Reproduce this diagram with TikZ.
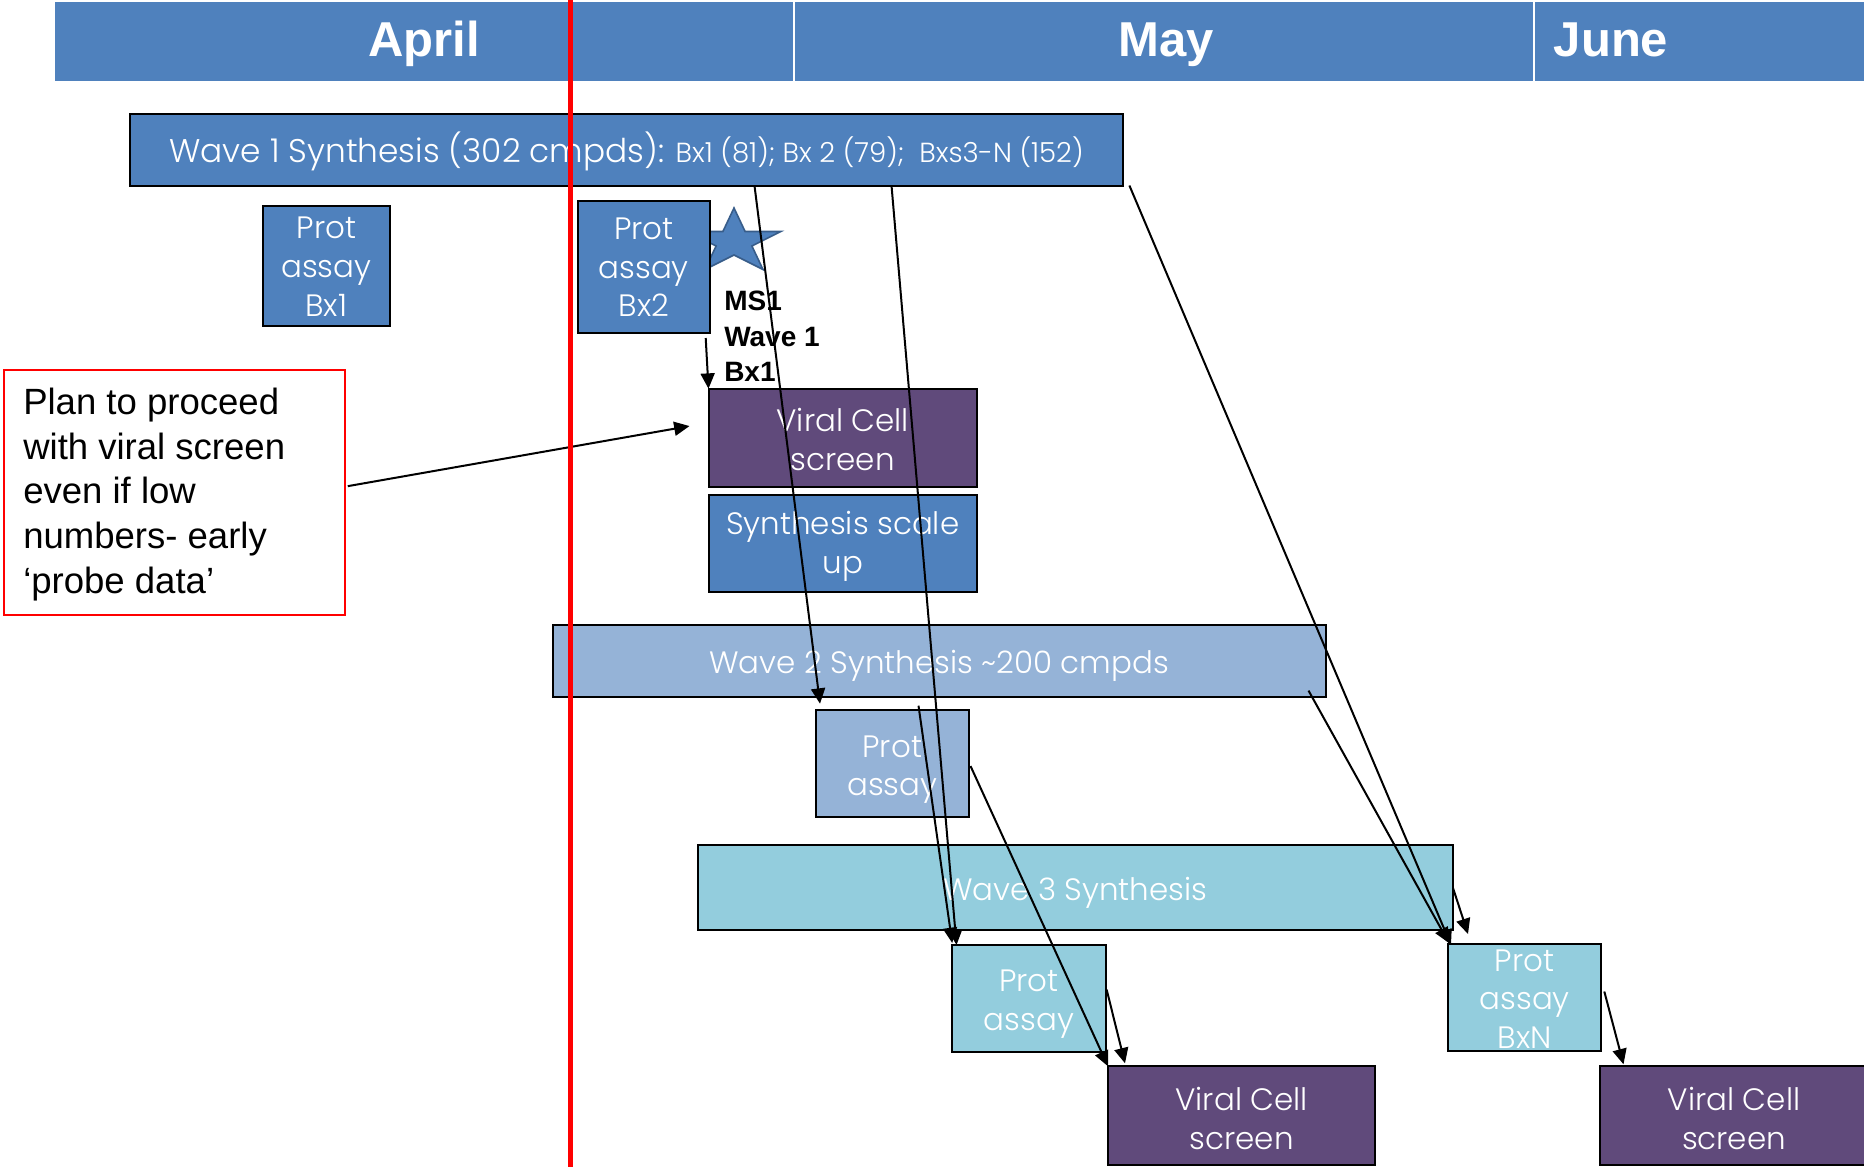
\documentclass[tikz,border=0pt]{standalone}
\usepackage{fontspec}
\setmainfont{Liberation Sans}
\newfontfamily\gothic{Poppins Light}
\usetikzlibrary{arrows.meta,fit,calc}
\definecolor{hdrblue}{HTML}{4F81BD}
\definecolor{vpurple}{HTML}{604A7B}
\definecolor{lblue}{HTML}{95B3D7}
\definecolor{aqua}{HTML}{93CDDD}
\definecolor{starline}{HTML}{385D8A}
\begin{document}
\begin{tikzpicture}[x=0.75pt,y=-0.75pt,
  hdrcell/.style={fill=hdrblue,draw=white,line width=1.5pt,inner sep=0pt},
  month/.style={text=white,inner sep=0pt,font=\bfseries\fontsize{36.75}{44}\selectfont,text height=26.55pt,text depth=3.75pt},
  bar/.style={draw=black,line width=1.5pt,inner sep=0pt,outer sep=0pt,anchor=north west,text=white,align=center,font=\gothic\fontsize{23.2}{28.9}\selectfont},
  tb/.style 2 args={text height=#1,text depth=#2},
  planbox/.style={draw=red,line width=1.5pt,inner sep=0pt},
  plantext/.style={inner sep=0pt,align=left,font=\fontsize{27.4}{33.4}\selectfont},
  mstext/.style={inner sep=0pt,align=left,font=\bfseries\fontsize{21}{26.6}\selectfont},
  conn/.style={line width=1.5pt,-{Triangle[length=11.5pt,width=10.5pt]}},
  todayline/.style={draw=red,line width=3.5pt},
  starshape/.style={fill=hdrblue,draw=starline,line width=1.2pt,line join=miter}
]
\useasboundingbox (0,0) rectangle (1864,1167);

% header
\node[hdrcell,fit={(53.5,1) (794,82)}] (apr) {};
\node[hdrcell,fit={(794,1) (1533.5,82)}] (may) {};
\node[hdrcell,fit={(1533.5,1) (1880,82)}] (jun) {};
\node[month] (aprtxt) at (424,41.5) {April};
\node[month] (maytxt) at (1166,41.5) {May};
\node[month] (juntxt) at (1611,41.5) {June};

% star milestone
\draw[starshape] (734,208) -- (745.1,231.5) -- (780.9,231.5) -- (751.9,246) -- (763,269.5)
  -- (734,255) -- (705,269.5) -- (716.1,246) -- (687.1,231.5) -- (722.9,231.5) -- cycle;

% boxes
\node[bar,fill=hdrblue,minimum width=745.35pt,minimum height=53.63pt,tb={23.2pt}{3.75pt}] (w1) at (129.6,114)
  {{\fontsize{24.6}{29}\selectfont Wave 1 Synthesis (302 cmpds):} {\fontsize{20.7}{25}\selectfont Bx1 (81); Bx 2 (79);\ \ Bxs3-N (152)}};
\node[bar,fill=hdrblue,minimum width=95.48pt,minimum height=90pt,tb={79.2pt}{3.75pt}] (pb1) at (262.7,205.7) {Prot\\assay\\Bx1};
\node[bar,fill=hdrblue,minimum width=98.93pt,minimum height=99pt,tb={78.3pt}{3.75pt}] (pb2) at (577.8,201) {Prot\\assay\\Bx2};
\node[bar,fill=vpurple,minimum width=201.38pt,minimum height=74.03pt,tb={51.7pt}{3.75pt}] (vc1) at (708.5,388.7) {Viral Cell\\screen};
\node[bar,fill=hdrblue,minimum width=201.38pt,minimum height=73.13pt,tb={48.4pt}{3.75pt}] (ssu) at (708.5,494.5) {Synthesis scale\\up};
\node[bar,fill=lblue,minimum width=579.53pt,minimum height=53.48pt,tb={22.6pt}{3.75pt}] (w2) at (552.8,625.3) {Wave 2 Synthesis \textasciitilde200 cmpds};
\node[bar,fill=lblue,minimum width=115.13pt,minimum height=80.25pt,tb={52.35pt}{3.75pt}] (pa2) at (815.5,709.7) {Prot\\assay};
\node[bar,fill=aqua,minimum width=566.18pt,minimum height=63.3pt,tb={23.7pt}{3.75pt}] (w3) at (697.8,845.2) {Wave 3 Synthesis};
\node[bar,fill=aqua,minimum width=115.05pt,minimum height=80.25pt,tb={51pt}{3.75pt}] (pa3) at (952.2,945) {Prot\\assay};
\node[bar,fill=vpurple,minimum width=200.55pt,minimum height=74.03pt,tb={53.8pt}{3.75pt}] (vc2) at (1108,1066.3) {Viral Cell\\screen};
\node[bar,fill=aqua,minimum width=114.98pt,minimum height=80.25pt,tb={76.5pt}{0pt}] (pbn) at (1448,944) {Prot\\assay\\BxN};
\node[bar,fill=vpurple,minimum width=201pt,minimum height=74.03pt,tb={53.8pt}{3.75pt}] (vc3) at (1600,1066.3) {Viral Cell\\screen};

% note box
\node[planbox,fit={(3.6,369.7) (344.8,614.6)}] (plan) {};
\node[plantext,anchor=base west] (plantxt) at (23,593)
  {Plan to proceed\\with viral screen\\even if low\\numbers- early\\‘probe data’};

% milestone label
\node[mstext,anchor=base west] (ms1) at (724,381.7) {MS1\\Wave 1\\Bx1};

% connectors
\draw[conn] ($(plan.east)+(2,-6)$) -- ($(vc1.west)+(-19,-12)$);
\draw[conn] ($(pb2.south east)+(-4,5)$) -- (vc1.north west);
\draw[conn] ($(w1.south west)+(625,1)$) -- ($(pa2.north west)+(4.5,-6)$);
\draw[conn] ($(w1.south west)+(762,1)$) -- ($(pa3.north west)+(4.3,0)$);
\draw[conn] ($(pa2.north west)+(103,-4)$) -- ($(pa3.north west)+(0,-2)$);
\draw[conn] ($(pa2.east)+(1.5,2.8)$) -- (vc2.north west);
\draw[conn] ($(pa3.east)+(1,-9)$) -- ($(vc2.north west)+(17,-3)$);
\draw[conn] ($(w1.south east)+(6,0)$) -- ($(pbn.north west)+(3,1)$);
\draw[conn] ($(w2.south east)+(-17,-6)$) -- ($(pbn.north west)+(1,-1)$);
\draw[conn] ($(w3.east)+(0.3,0.6)$) -- ($(pbn.north west)+(20,-10)$);
\draw[conn] ($(pbn.east)+(3,-6)$) -- ($(vc3.north west)+(23.5,-2)$);

% today line
\coordinate (todaytop) at (570.6,0);
\coordinate (todaybot) at (570.6,1167);
\draw[todayline] (todaytop) -- (todaybot);
\end{tikzpicture}
\end{document}
